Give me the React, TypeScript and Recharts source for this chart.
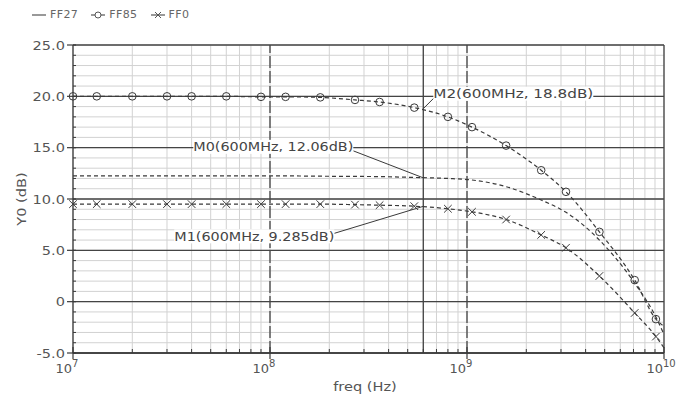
import React from "react"
import {
  LineChart,
  Line,
  XAxis,
  YAxis,
  CartesianGrid,
  ReferenceLine,
  ReferenceDot,
} from "recharts"

// sweep points (Hz) where the simulator put its markers
const freqHz = [
  1e7, 1.32e7, 2e7, 3e7, 4e7, 6e7, 9e7, 1.2e8, 1.8e8, 2.7e8, 3.6e8, 5.4e8,
  8e8, 1.06e9, 1.58e9, 2.38e9, 3.18e9, 4.7e9, 7.1e9, 9.1e9, 1e10,
]
const ff85 = [
  20.0, 20.0, 20.0, 20.0, 20.0, 20.0, 19.95, 19.95, 19.9, 19.65, 19.45, 18.9,
  18.0, 17.0, 15.2, 12.8, 10.7, 6.8, 2.1, -1.7, -2.4,
]
const ff0 = [
  9.5, 9.5, 9.5, 9.5, 9.5, 9.5, 9.5, 9.5, 9.5, 9.45, 9.4, 9.3, 9.05, 8.75,
  8.0, 6.5, 5.25, 2.5, -1.1, -3.4, -4.5,
]
const ff27 = [
  12.25, 12.25, 12.25, 12.25, 12.25, 12.25, 12.25, 12.25, 12.22, 12.2, 12.18,
  12.1, 12.0, 11.85, 11.2, 9.9, 8.7, 6.0, 1.8, -1.5, -3.2,
]

const xTicks = [
  1e7, 2e7, 3e7, 4e7, 5e7, 6e7, 7e7, 8e7, 9e7, 1e8, 2e8, 3e8, 4e8, 5e8, 6e8,
  7e8, 8e8, 9e8, 1e9, 2e9, 3e9, 4e9, 5e9, 6e9, 7e9, 8e9, 9e9, 1e10,
]
const xDecades = [1e7, 1e8, 1e9, 1e10]
const xDecadeExp = ["7", "8", "9", "10"]
const yTicks = [
  -5, -4, -3, -2, -1, 0, 1, 2, 3, 4, 5, 6, 7, 8, 9, 10, 11, 12, 13, 14, 15, 16,
  17, 18, 19, 20, 21, 22, 23, 24, 25,
]
const yMajor = [-5, 0, 5, 10, 15, 20, 25]
const yMajorLabels = ["-5.0", "0", "5.0", "10.0", "15.0", "20.0", "25.0"]

const markerFreq = 6e8
const m0Value = 12.06
const m1Value = 9.285
const m2Value = 18.8

const rows = freqHz.map((f, i) => ({
  f,
  ff85: ff85[i],
  ff0: ff0[i],
  ff27: ff27[i],
}))

const FONT = "'DejaVu Sans', sans-serif"
const INK = "#3a3a3a"
const TEXT = "#555"

function Txt({ x, y, children, anchor = "start", size = 13, sx = 1.12, fill = TEXT, rotate = 0 }: any) {
  return (
    <text
      transform={`translate(${x} ${y}) rotate(${rotate}) scale(${sx} 1)`}
      textAnchor={anchor}
      dominantBaseline="central"
      fontSize={size}
      fontFamily={FONT}
      fill={fill}
    >
      {children}
    </text>
  )
}

function XTick({ x, y, payload }: any) {
  const v = payload.value
  const di = xDecades.indexOf(v)
  if (di < 0) {
    return <line x1={x} x2={x} y1={y} y2={y - 4} stroke={INK} strokeWidth={1} />
  }
  return (
    <g>
      <line x1={x} x2={x} y1={y - 6} y2={y + 6} stroke={INK} strokeWidth={1.2} />
      <text x={x - 1} y={y + 20} textAnchor="end" fontSize={13} fontFamily={FONT} fill={TEXT}>
        10
      </text>
      <text x={x - 1} y={y + 14} textAnchor="start" fontSize={10} fontFamily={FONT} fill={TEXT}>
        {xDecadeExp[di]}
      </text>
    </g>
  )
}

function YTick({ x, y, payload }: any) {
  const v = payload.value
  const mi = yMajor.indexOf(v)
  if (mi < 0) {
    return <line x1={x} x2={x + 3} y1={y} y2={y} stroke={INK} strokeWidth={1} />
  }
  return (
    <g>
      <line x1={x - 6} x2={x + 3} y1={y} y2={y} stroke={INK} strokeWidth={1.2} />
      <Txt x={x - 8} y={y} anchor="end">
        {yMajorLabels[mi]}
      </Txt>
    </g>
  )
}

function CircleDot({ cx, cy, index }: any) {
  if (index === freqHz.length - 1 || cx == null) return <g key={index} />
  return <circle key={index} cx={cx} cy={cy} r={3.8} fill="none" stroke={INK} strokeWidth={1} />
}

function CrossDot({ cx, cy, index }: any) {
  if (index === freqHz.length - 1 || cx == null) return <g key={index} />
  const s = 3.8
  return (
    <path
      key={index}
      d={`M${cx - s},${cy - s}L${cx + s},${cy + s}M${cx - s},${cy + s}L${cx + s},${cy - s}`}
      stroke={INK}
      strokeWidth={1}
    />
  )
}

// marker readout: leader line + boxed text
function MarkerTag({ cx, cy, text, dx, dy, anchor }: any) {
  const w = 160
  const h = 14
  const tx = cx + dx
  const ty = cy + dy
  const left = anchor === "end" ? tx - w : tx
  const lx = anchor === "end" ? tx : tx + 1
  const ly = ty + (dy < 0 ? 4 : -3)
  return (
    <g>
      <line x1={cx} y1={cy} x2={lx} y2={ly} stroke={INK} strokeWidth={1} />
      <rect x={left} y={ty - h / 2} width={w} height={h} fill="#fff" />
      <text
        x={left}
        y={ty}
        textLength={w}
        lengthAdjust="spacingAndGlyphs"
        dominantBaseline="central"
        fontSize={13}
        fontFamily={FONT}
        fill="#444"
      >
        {text}
      </text>
    </g>
  )
}

function LegendIcon({ kind }: { kind: string }) {
  return (
    <svg width={16} height={10} style={{ marginRight: 3 }}>
      <line x1={1} x2={15} y1={5} y2={5} stroke="#555" strokeWidth={1.2} />
      {kind === "circle" && <circle cx={8} cy={5} r={3} fill="#fff" stroke="#555" strokeWidth={1} />}
      {kind === "cross" && <path d="M5,2L11,8M5,8L11,2" stroke="#555" strokeWidth={1} />}
    </svg>
  )
}

const legendItems = [
  { name: "FF27", kind: "line" },
  { name: "FF85", kind: "circle" },
  { name: "FF0", kind: "cross" },
]

export default function App() {
  return (
    <div style={{ position: "absolute", left: 0, top: 0, width: 679, height: 397, background: "#fff" }}>
      <div
        style={{
          position: "absolute",
          left: 31,
          top: 8,
          display: "flex",
          alignItems: "center",
          fontFamily: FONT,
          fontSize: 11,
          color: "#666",
          letterSpacing: 0.4,
        }}
      >
        {legendItems.map((it) => (
          <span key={it.name} style={{ display: "flex", alignItems: "center", marginRight: 12 }}>
            <LegendIcon kind={it.kind} />
            {it.name}
          </span>
        ))}
      </div>
      <svg style={{ position: "absolute", left: 0, top: 0, pointerEvents: "none" }} width={679} height={397}>
        <Txt x={365} y={386} anchor="middle">
          freq (Hz)
        </Txt>
        <Txt x={21} y={199} anchor="middle" rotate={-90}>
          Y0 (dB)
        </Txt>
      </svg>
      <LineChart
        width={679}
        height={397}
        data={rows}
        margin={{ top: 45, right: 15, left: 5, bottom: 0 }}
        style={{ position: "absolute", left: 0, top: 0 }}
      >
        <CartesianGrid stroke="#d2d2d2" strokeWidth={1} />
        {yMajor.map((v) => (
          <ReferenceLine key={"y" + v} y={v} stroke="#444" strokeWidth={1.3} />
        ))}
        <ReferenceLine x={1e8} stroke="#444" strokeWidth={1.3} strokeDasharray="12 3" />
        <ReferenceLine x={1e9} stroke="#444" strokeWidth={1.3} strokeDasharray="12 3" />
        <ReferenceLine x={1e10} stroke="#444" strokeWidth={1.3} />
        <ReferenceLine x={markerFreq} stroke="#444" strokeWidth={1.3} />
        <XAxis
          dataKey="f"
          type="number"
          scale="log"
          domain={[1e7, 1e10]}
          ticks={xTicks}
          interval={0}
          height={44}
          tickSize={0}
          tickMargin={0}
          tickLine={false}
          axisLine={{ stroke: INK, strokeWidth: 1.3 }}
          tick={<XTick />}
        />
        <YAxis
          type="number"
          domain={[-5, 25]}
          ticks={yTicks}
          interval={0}
          width={68}
          tickSize={0}
          tickMargin={0}
          tickLine={false}
          axisLine={{ stroke: INK, strokeWidth: 1.3 }}
          tick={<YTick />}
        />
        <Line
          dataKey="ff27"
          type="monotone"
          stroke={INK}
          strokeWidth={1.2}
          strokeDasharray="4 3"
          dot={false}
          isAnimationActive={false}
        />
        <Line
          dataKey="ff85"
          type="monotone"
          stroke={INK}
          strokeWidth={1.2}
          strokeDasharray="4 3"
          dot={<CircleDot />}
          isAnimationActive={false}
        />
        <Line
          dataKey="ff0"
          type="monotone"
          stroke={INK}
          strokeWidth={1.2}
          strokeDasharray="4 3"
          dot={<CrossDot />}
          isAnimationActive={false}
        />
        <ReferenceDot
          x={markerFreq}
          y={m2Value}
          r={2}
          shape={(p: any) => <MarkerTag {...p} text="M2(600MHz, 18.8dB)" dx={10} dy={-15} anchor="start" />}
        />
        <ReferenceDot
          x={markerFreq}
          y={m0Value}
          r={2}
          shape={(p: any) => <MarkerTag {...p} text="M0(600MHz, 12.06dB)" dx={-70} dy={-31} anchor="end" />}
        />
        <ReferenceDot
          x={markerFreq}
          y={m1Value}
          r={2}
          shape={(p: any) => <MarkerTag {...p} text="M1(600MHz, 9.285dB)" dx={-89} dy={30} anchor="end" />}
        />
      </LineChart>
    </div>
  )
}
